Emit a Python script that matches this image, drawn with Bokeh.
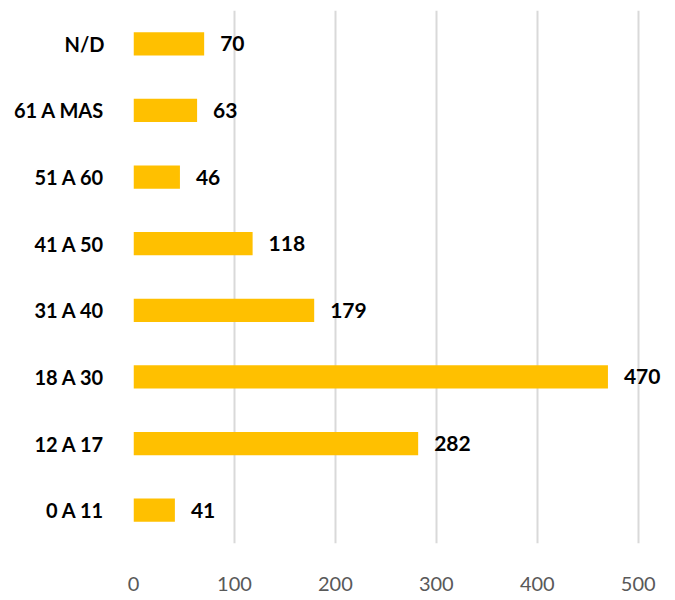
from bokeh.plotting import figure
from bokeh.models import ColumnDataSource, Range1d, FixedTicker
from bokeh.core.properties import value
from bokeh.embed import file_html
from bokeh.resources import INLINE

categories = ["0 A 11", "12 A 17", "18 A 30", "31 A 40", "41 A 50", "51 A 60", "61 A MAS", "N/D"]
counts = [41, 282, 470, 179, 118, 46, 63, 70]
x_ticks = [0, 100, 200, 300, 400, 500]

src = ColumnDataSource(dict(cat=categories, val=counts, lbl=[str(v) for v in counts]))

p = figure(width=667, height=595, y_range=categories, x_range=Range1d(0, 529),
           output_backend="svg", toolbar_location=None,
           min_border_left=133, min_border_right=0, min_border_top=10, min_border_bottom=52)
p.outline_line_color = None
p.background_fill_color = "white"
p.border_fill_color = "white"

p.hbar(y="cat", right="val", left=0, height=0.35, source=src, color="#FFC000", line_color=None)
p.text(x="val", y="cat", text="lbl", source=src, x_offset=16, text_baseline="middle",
       text_align="left", text_font=value("Lato"), text_font_style="bold",
       text_font_size="21px", text_color="black")

p.xaxis.ticker = FixedTicker(ticks=x_ticks)
p.xaxis.axis_line_color = None
p.xaxis.major_tick_line_color = None
p.xaxis.minor_tick_line_color = None
p.xaxis.major_label_text_font = "Lato"
p.xaxis.major_label_text_font_size = "20px"
p.xaxis.major_label_text_color = "#595959"
p.xaxis.major_label_standoff = 27

p.yaxis.axis_line_color = None
p.yaxis.major_tick_line_color = None
p.yaxis.minor_tick_line_color = None
p.yaxis.major_label_text_font = "Lato"
p.yaxis.major_label_text_font_style = "bold"
p.yaxis.major_label_text_font_size = "20px"
p.yaxis.major_label_text_color = "black"
p.yaxis.major_label_standoff = 23

p.ygrid.grid_line_color = None
p.xgrid.grid_line_color = "#d9d9d9"
p.xgrid.grid_line_width = 2

open("out.html", "w").write(file_html(p, INLINE))
